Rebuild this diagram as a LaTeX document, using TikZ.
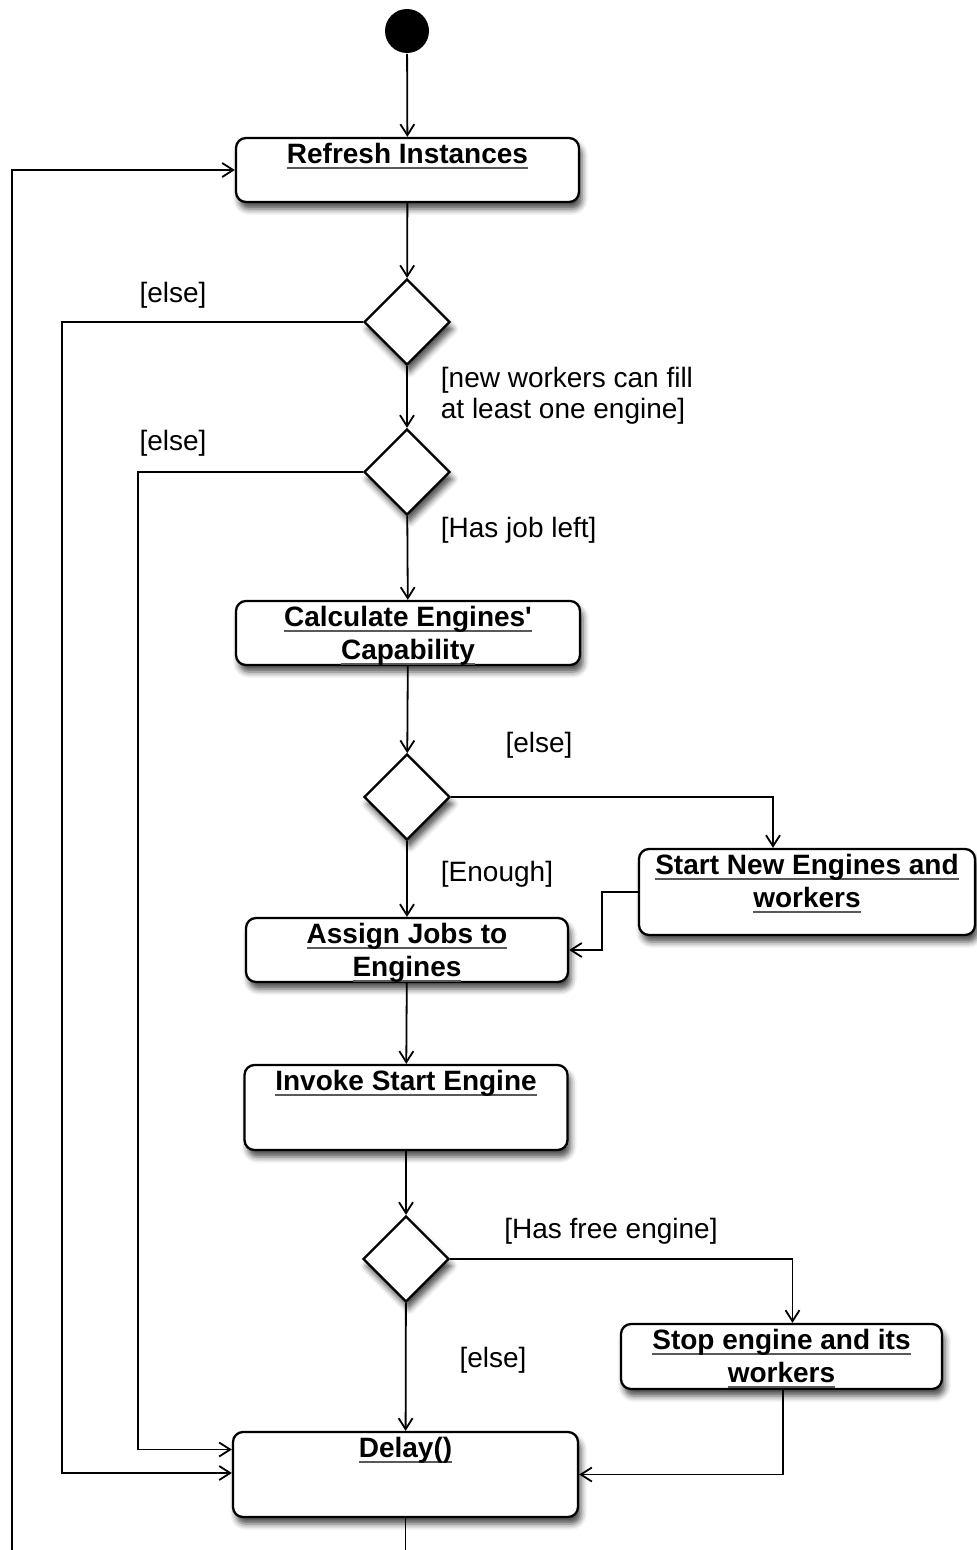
\documentclass[tikz,border=0pt]{standalone}
\usepackage{fontspec}
\setmainfont{Liberation Sans}[Ligatures=TeXOff]
\usetikzlibrary{arrows.meta,shapes.geometric,shadows.blur}
% underline drawn as a thick grey rule under the text
\newsavebox\ulsave
\newcommand\ulin[1]{\sbox\ulsave{#1}\rlap{\color{black!65}\rule[-6pt]{\wd\ulsave}{1.8pt}}\usebox\ulsave}

\begin{document}
\begin{tikzpicture}[x=1pt,y=-1pt,
  line width=1.8pt,
  >={Straight Barb[length=11pt,width=14pt]},
  boxshadow/.style={blur shadow={shadow xshift=3pt,shadow yshift=-7pt,shadow blur radius=6pt,shadow opacity=70}},
  act/.style={draw, line width=2.3pt, rounded corners=10pt, fill=white, boxshadow, inner sep=0pt},
  actname/.style={label={[anchor=north,yshift=-5pt,inner sep=0pt,align=center,
      font=\fontsize{28}{33}\selectfont\bfseries]north:#1}},
  choice/.style={draw, diamond, line width=2.3pt, fill=white, boxshadow,
      minimum width=86pt, minimum height=86pt, inner sep=0pt},
  guard/.style={font=\fontsize{28}{31}\selectfont, inner sep=0pt, align=left},
  startdot/.style={circle, fill=black, minimum size=44pt, inner sep=0pt},
]
\useasboundingbox (0,0) rectangle (977,1550);

% initial node
\node[startdot] (start) at (407,31) {};

% actions
\node[act, minimum width=343pt, minimum height=64pt,
      actname={\ulin{Refresh Instances}}] (refresh) at (407.5,170) {};
\node[act, minimum width=344pt, minimum height=64pt,
      actname={\ulin{Calculate Engines'}\\\ulin{Capability}}] (calc) at (408,633) {};
\node[act, minimum width=336pt, minimum height=86pt,
      actname={\ulin{Start New Engines and}\\\ulin{workers}}] (startnew) at (807,892) {};
\node[act, minimum width=322pt, minimum height=64pt,
      actname={\ulin{Assign Jobs to}\\\ulin{Engines}}] (assign) at (407,950) {};
\node[act, minimum width=323pt, minimum height=85pt,
      actname={\ulin{Invoke Start Engine}}] (invoke) at (406,1107.5) {};
\node[act, minimum width=321pt, minimum height=65pt,
      actname={\ulin{Stop engine and its}\\\ulin{workers}}] (stop) at (781.5,1356.5) {};
\node[act, minimum width=345pt, minimum height=85pt,
      actname={\ulin{Delay()}}] (delay) at (405.5,1474.5) {};

% decisions
\node[choice] (d1) at (407,322) {};
\node[choice] (d2) at (407,472) {};
\node[choice] (d3) at (407,797) {};
\node[choice] (d4) at (406,1259) {};

% guards
\node[guard] (g1) at (173,295) {[else]};
\node[guard, anchor=west] (g2) at (440,396) {[new workers can fill\\at least one engine]};
\node[guard] (g3) at (173,443) {[else]};
\node[guard, anchor=west] (g4) at (440,530) {[Has job left]};
\node[guard] (g5) at (539,745) {[else]};
\node[guard] (g6) at (497,874) {[Enough]};
\node[guard] (g7) at (611,1231) {[Has free engine]};
\node[guard] (g8) at (493,1360) {[else]};

% helper points for the return paths
\coordinate (loop) at (12,1550);
\coordinate (exit) at (407,1550);
\coordinate (skip1) at (62,0);
\coordinate (skip2) at (138,0);

% main flow
\draw[->] (start) -- (refresh);
\draw[->] (refresh) -- (d1);
\draw[->] (d1) -- (d2);
\draw[->] (d2) -- (calc);
\draw[->] (calc) -- (d3);
\draw[->] (d3) -- (assign);
\draw[->] (d3.east) -| ([xshift=-34pt]startnew.north);
\draw[->] (startnew.west) -- ++(-36,0) |- (assign.east);
\draw[->] (assign) -- (invoke);
\draw[->] (invoke.south) -- (d4.north);
\draw[->] (d4.east) -| ([xshift=11pt]stop.north);
\draw[->] (d4) -- (delay);
\draw[->] ([xshift=1.5pt]stop.south) |- (delay.east);

% skips to the delay
\draw[->] (d1.west) -- (d1.west -| skip1) |- ([yshift=1.5pt]delay.west);
\draw[->] (d2.west) -- (d2.west -| skip2) |- ([yshift=25pt]delay.west);

% loop back to refresh
\draw (delay.south) -- (delay.south |- exit);
\draw[->] (loop) |- (refresh.west);
\end{tikzpicture}
\end{document}
